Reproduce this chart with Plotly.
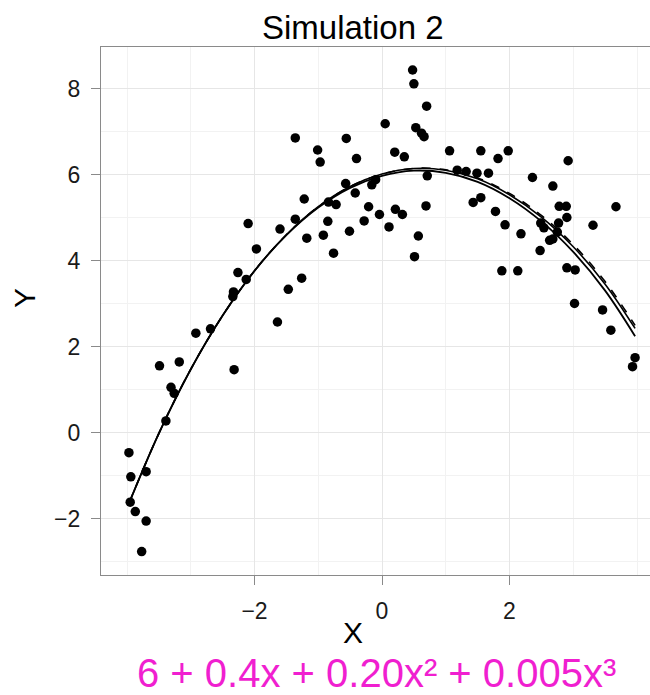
import plotly.graph_objects as go

# ---- data ----
x_pts = [-3.97, -3.94, -3.70, -3.95, -3.87, -3.70, -3.77, -3.39, -3.31, -3.26,
         -3.49, -3.18, -2.92, -2.69, -2.32, -1.64, -2.34, -2.33, -1.47, -2.26,
         -2.13, -1.26, -1.97, -0.76, -1.18, -0.92, -0.51, -2.10, -1.60, -1.36,
         -0.85, -0.28, -1.22, -0.84, -0.72, -0.21, -0.04, -0.57, -0.16, -0.10,
         -0.42, -1.36, -0.56, -1.01, -0.97, -0.40, 0.48, 0.50, 0.70, 0.05,
         0.53, 0.62, 0.66, 0.20, 0.35, 1.06, 1.55, 1.98, 1.82, 2.92,
         1.18, 1.32, 1.49, 1.67, 0.71, 2.36, 2.68, 0.11, 0.21, 0.32,
         0.69, 0.57, 0.51, 1.43, 1.55, 1.78, 1.93, 2.18, 1.88, 2.13,
         2.49, 2.54, 2.48, 2.78, 2.89, 2.90, 2.77, 2.75, 2.63, 2.68,
         3.31, 3.67, 2.90, 3.03, 3.02, 3.46, 3.59, 3.97, 3.93]
y_pts = [-0.47, -1.03, -0.91, -1.62, -1.84, -2.06, -2.77, 0.27, 1.05, 0.91,
         1.55, 1.64, 2.31, 2.41, 1.46, 2.57, 3.16, 3.27, 3.33, 3.72,
         3.56, 3.59, 4.27, 4.17, 4.52, 4.59, 4.68, 4.86, 4.73, 4.96,
         4.91, 4.92, 5.43, 5.36, 5.30, 5.25, 5.07, 5.79, 5.76, 5.88,
         5.57, 6.85, 6.84, 6.57, 6.29, 6.37, 8.43, 8.11, 7.59, 7.18,
         7.09, 6.96, 6.88, 6.52, 6.41, 6.55, 6.55, 6.55, 6.37, 6.32,
         6.10, 6.07, 6.03, 6.03, 5.97, 5.93, 5.73, 4.78, 5.19, 5.07,
         5.27, 4.57, 4.09, 5.35, 5.46, 5.14, 4.83, 4.62, 3.76, 3.76,
         4.87, 4.76, 4.23, 5.26, 5.26, 5.00, 4.87, 4.66, 4.47, 4.50,
         4.82, 5.25, 3.83, 3.78, 3.00, 2.85, 2.38, 1.74, 1.53]

curve_x = [-3.97, -3.5, -3.0, -2.5, -2.0, -1.5, -1.0, -0.5, 0.0, 0.5,
           1.0, 1.5, 2.0, 2.5, 3.0, 3.5, 3.97]
curve_a = [-1.65, -0.02, 1.47, 2.72, 3.76, 4.59, 5.23, 5.69, 5.97, 6.09,
           6.04, 5.83, 5.45, 4.91, 4.20, 3.30, 2.24]
curve_b = [-1.65, -0.02, 1.47, 2.72, 3.76, 4.60, 5.25, 5.72, 6.01, 6.14,
           6.10, 5.90, 5.53, 5.01, 4.32, 3.45, 2.42]
curve_c = [-1.65, -0.02, 1.47, 2.72, 3.76, 4.60, 5.25, 5.72, 6.01, 6.14,
           6.11, 5.92, 5.56, 5.05, 4.37, 3.51, 2.49]

x_ticks = [-2, 0, 2]
x_minor = [-4, -3, -1, 1, 3, 4]
y_ticks = [-2, 0, 2, 4, 6, 8]
y_minor = [-3, -1, 1, 3, 5, 7]

title_text = "Simulation 2"
x_title = "X"
y_title = "Y"
note_text = "6 + 0.4x + 0.20x² + 0.005x³"

FONT = "Liberation Sans, Arial, Helvetica, sans-serif"

fig = go.Figure()
fig.add_trace(go.Scatter(x=curve_x, y=curve_c, mode="lines",
                         line=dict(color="black", width=1.6, dash="dash", shape="spline"),
                         showlegend=False, hoverinfo="skip"))
fig.add_trace(go.Scatter(x=curve_x, y=curve_b, mode="lines",
                         line=dict(color="black", width=1.6, shape="spline"),
                         showlegend=False, hoverinfo="skip"))
fig.add_trace(go.Scatter(x=curve_x, y=curve_a, mode="lines",
                         line=dict(color="black", width=1.8, shape="spline"),
                         showlegend=False, hoverinfo="skip"))
fig.add_trace(go.Scatter(x=x_pts, y=y_pts, mode="markers",
                         marker=dict(color="black", size=9.5, line=dict(width=0)),
                         showlegend=False))

axis_common = dict(
    showline=True, linecolor="#8a8a8a", linewidth=1.2,
    ticks="outside", ticklen=9, tickwidth=1.3, tickcolor="#8a8a8a",
    tickfont=dict(family=FONT, size=23, color="#1a1a1a"),
    gridcolor="#e6e6e6", gridwidth=1.2, zeroline=False,
)

PL, PR, PT, PB = 101, 650, 47, 575


def px_to_paper(px, py):
    return (px - PL) / (PR - PL), (PB - py) / (PB - PT)


anns = []
for txt, px, py, size, color, angle in [
    (title_text, 353, 27, 33, "black", 0),
    (x_title, 353, 632, 30, "black", 0),
    (y_title, 24, 298, 30, "black", -90),
    (note_text, 376, 673, 40, "#f01fd0", 0),
]:
    ax_, ay_ = px_to_paper(px, py)
    anns.append(dict(text=txt, x=ax_, y=ay_, xref="paper", yref="paper",
                     xanchor="center", yanchor="middle", showarrow=False,
                     textangle=angle,
                     font=dict(size=size, color=color, family=FONT)))

fig.update_layout(
    width=650, height=695,
    margin=dict(l=PL, r=650 - PR, t=PT, b=695 - PB),
    paper_bgcolor="white", plot_bgcolor="white",
    font=dict(family=FONT),
    xaxis=dict(range=[-4.408, 4.204], tickvals=x_ticks, mirror=True,
               minor=dict(tickvals=x_minor, showgrid=True, gridcolor="#f2f2f2",
                          gridwidth=1, ticks=""),
               ticklabelstandoff=6, **axis_common),
    yaxis=dict(range=[-3.314, 8.965], tickvals=y_ticks,
               minor=dict(tickvals=y_minor, showgrid=True, gridcolor="#f2f2f2",
                          gridwidth=1, ticks=""),
               ticklabelstandoff=6, **axis_common),
    annotations=anns,
)

fig.write_html("out.html")
